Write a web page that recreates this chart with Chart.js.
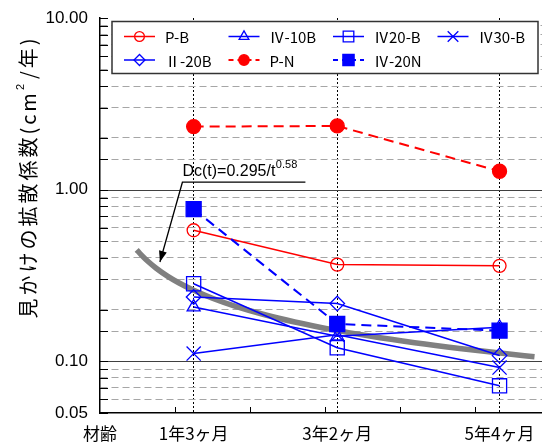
<!DOCTYPE html>
<html>
<head>
<meta charset="utf-8">
<script src="https://cdn.jsdelivr.net/npm/chart.js@4.4.1/dist/chart.umd.min.js"></script>
<style>
  html, body { margin: 0; padding: 0; background: #fff; }
  canvas { display: block; }
</style>
</head>
<body>
<canvas id="chart" width="542" height="443"></canvas>
<script>
// 材齢 (years) of each measurement and its label
var ages = [1.25, 19 / 6, 16 / 3];
var ageLabels = ['1年3ヶ月', '3年2ヶ月', '5年4ヶ月'];
var originLabel = '材齢';
var xTickYears = [1, 2, 3, 4, 5];

// 見かけの拡散係数 (cm2/年)
var seriesNames = ['P-B', 'Ⅳ-10B', 'Ⅳ20-B', 'Ⅳ30-B', 'Ⅱ-20B', 'P-N', 'Ⅳ-20N'];
var pB    = [0.58, 0.366, 0.36];
var iv10B = [0.207, 0.140, 0.158];
var iv20B = [0.283, 0.120, 0.072];
var iv30B = [0.111, 0.143, 0.092];
var ii20B = [0.237, 0.217, 0.108];
var pN    = [2.33, 2.35, 1.28];
var iv20N = [0.77, 0.165, 0.151];

// regression Dc(t) = a / t^b, sampled over the plotted range
var fitA = 0.295;
var fitB = 0.58;
var fitAges = [0.49, 0.55, 0.65, 0.75, 0.9, 1.05, 1.25, 1.5, 1.8, 2.2, 2.6, 3.1, 3.6, 4.2, 4.8, 5.4, 5.8];

var yLabelValues = [0.05, 0.1, 1, 10];
var yDecades = [0.1, 1];
var yTitle = ['見かけの拡散係数(cm', '2', '/年)'];

var RED = '#ff0000';
var BLUE = '#0000ff';
var JP = '"Noto Sans CJK JP", sans-serif';
var NUM = '"Liberation Sans", Arial, sans-serif';

function fit(t) { return fitA / Math.pow(t, fitB); }

function points(vals) {
  return ages.map(function (a, i) { return { x: a, y: vals[i] }; });
}

function series(name, vals, color, style, radius, filled, dashed) {
  return {
    label: name,
    data: points(vals),
    showLine: true,
    borderColor: color,
    borderWidth: dashed ? 2 : 1.5,
    borderDash: dashed ? [10, 6] : [],
    pointStyle: style,
    pointRadius: radius,
    pointHoverRadius: radius,
    pointBorderColor: color,
    pointBackgroundColor: filled ? color : 'rgba(0,0,0,0)',
    pointBorderWidth: 1.3,
    order: dashed ? 0 : 1
  };
}

var datasets = [
  series(seriesNames[0], pB, RED, 'circle', 6.5, false, false),
  series(seriesNames[1], iv10B, BLUE, 'triangle', 7.5, false, false),
  series(seriesNames[2], iv20B, BLUE, 'rect', 10, false, false),
  series(seriesNames[3], iv30B, BLUE, 'crossRot', 10, false, false),
  series(seriesNames[4], ii20B, BLUE, 'rectRot', 7.3, false, false),
  series(seriesNames[5], pN, RED, 'circle', 7, true, true),
  series(seriesNames[6], iv20N, BLUE, 'rect', 10.6, true, true),
  {
    label: 'fit',
    data: fitAges.map(function (t) { return { x: t, y: fit(t) }; }),
    showLine: true,
    borderColor: '#808080',
    borderWidth: 5.5,
    pointRadius: 0,
    cubicInterpolationMode: 'monotone',
    order: 2
  }
];

function px(v) { return Math.round(v) + 0.5; }

var decor = {
  id: 'decor',
  beforeDatasetsDraw: function (chart) {
    var ctx = chart.ctx, ca = chart.chartArea;
    var xs = chart.scales.x, ys = chart.scales.y;
    ctx.save();
    ctx.setLineDash([]);
    ctx.strokeStyle = '#404040';
    ctx.lineWidth = 1;
    yDecades.forEach(function (v) {
      var y = px(ys.getPixelForValue(v));
      ctx.beginPath(); ctx.moveTo(ca.left, y); ctx.lineTo(ca.right, y); ctx.stroke();
    });
    ctx.strokeStyle = '#000';
    ys.ticks.forEach(function (t) {
      var y = px(ys.getPixelForValue(t.value));
      ctx.beginPath(); ctx.moveTo(ca.left, y); ctx.lineTo(ca.left + 8, y); ctx.stroke();
    });
    xTickYears.forEach(function (v) {
      var x = px(xs.getPixelForValue(v));
      ctx.beginPath(); ctx.moveTo(x, ca.bottom); ctx.lineTo(x, ca.bottom - 6); ctx.stroke();
    });
    ctx.restore();
  },
  afterDraw: function (chart) {
    var ctx = chart.ctx, ca = chart.chartArea;
    var xs = chart.scales.x, ys = chart.scales.y;
    ctx.save();

    // equation with leader arrow onto the curve
    var ex = xs.getPixelForValue(1.1), ey = ys.getPixelForValue(1.105);
    var tx = xs.getPixelForValue(0.8), ty = ys.getPixelForValue(fit(0.8)) - 9;
    ctx.fillStyle = '#000';
    ctx.strokeStyle = '#000';
    ctx.lineWidth = 1.3;
    ctx.font = '16px ' + NUM;
    ctx.textBaseline = 'alphabetic';
    var eq = 'Dc(t)=' + fitA + '/t';
    ctx.fillText(eq, ex, ey - 6.5);
    var ew = ctx.measureText(eq).width;
    ctx.font = '11px ' + NUM;
    ctx.fillText(String(fitB), ex + ew + 0.5, ey - 14);
    ctx.beginPath();
    ctx.moveTo(ex + 123, ey); ctx.lineTo(ex, ey); ctx.lineTo(tx, ty);
    ctx.stroke();
    var ang = Math.atan2(ty - ey, tx - ex);
    ctx.beginPath();
    ctx.moveTo(tx, ty);
    ctx.lineTo(tx - 11 * Math.cos(ang) + 4 * Math.sin(ang), ty - 11 * Math.sin(ang) - 4 * Math.cos(ang));
    ctx.lineTo(tx - 11 * Math.cos(ang) - 4 * Math.sin(ang), ty - 11 * Math.sin(ang) + 4 * Math.cos(ang));
    ctx.closePath();
    ctx.fill();

    // legend box inside the plot
    var bl = ca.left + 12, bt = ca.top + 3.5, bw = 426, bh = 52;
    ctx.fillStyle = '#fff';
    ctx.fillRect(bl, bt, bw, bh);
    ctx.strokeStyle = '#333';
    ctx.lineWidth = 1.5;
    ctx.strokeRect(bl, bt, bw, bh);
    ctx.font = '15px ' + JP;
    ctx.textBaseline = 'middle';
    chart.data.datasets.forEach(function (ds, i) {
      if (i >= seriesNames.length) return;
      var row = i < 4 ? 0 : 1, col = i < 4 ? i : i - 4;
      var x0 = bl + 12 + col * 104.5, y0 = bt + 15 + row * 23.5;
      ctx.save();
      ctx.strokeStyle = ds.borderColor;
      ctx.lineWidth = ds.borderWidth;
      ctx.setLineDash(ds.borderDash.length ? [5, 4] : []);
      ctx.beginPath(); ctx.moveTo(x0, y0); ctx.lineTo(x0 + 31, y0); ctx.stroke();
      ctx.setLineDash([]);
      ctx.lineWidth = ds.pointBorderWidth;
      ctx.fillStyle = ds.pointBackgroundColor;
      Chart.helpers.drawPoint(ctx, {
        pointStyle: ds.pointStyle, radius: ds.pointRadius * 0.75,
        borderWidth: ds.pointBorderWidth, rotation: 0
      }, x0 + 15.5, y0);
      ctx.restore();
      ctx.fillStyle = '#000';
      ctx.fillText(ds.label, x0 + 41, y0 + 1);
    });

    // rotated value-axis title with superscript
    ctx.translate(28, 177);
    ctx.rotate(-Math.PI / 2);
    ctx.fillStyle = '#000';
    ctx.textBaseline = 'middle';
    ctx.letterSpacing = '3px';
    ctx.font = '20px ' + JP;
    var w1 = ctx.measureText(yTitle[0]).width, w3 = ctx.measureText(yTitle[2]).width;
    ctx.font = '11px ' + NUM;
    var w2 = ctx.measureText(yTitle[1]).width + 2;
    var x = -(w1 + w2 + w3) / 2;
    ctx.font = '20px ' + JP;
    ctx.fillText(yTitle[0], x, 0);
    ctx.font = '11px ' + NUM;
    ctx.fillText(yTitle[1], x + w1, -7);
    ctx.font = '20px ' + JP;
    ctx.fillText(yTitle[2], x + w1 + w2, 0);
    ctx.restore();
  }
};

new Chart(document.getElementById('chart'), {
  type: 'scatter',
  data: { datasets: datasets },
  options: {
    responsive: false,
    animation: false,
    events: [],
    layout: { autoPadding: false, padding: { top: 18, right: 0, bottom: 0, left: 0 } },
    plugins: { legend: { display: false }, tooltip: { enabled: false } },
    scales: {
      x: {
        type: 'linear',
        min: 0,
        max: 5.9,
        afterBuildTicks: function (scale) {
          scale.ticks = [0].concat(ages).map(function (v) { return { value: v }; });
        },
        afterFit: function (scale) {
          scale.height = 30;
          scale.paddingLeft = 0;
          scale.paddingRight = 0;
        },
        ticks: {
          autoSkip: false,
          maxRotation: 0,
          padding: 10,
          color: '#000',
          font: { family: JP, size: 17 },
          callback: function (v, i) { return i === 0 ? originLabel : ageLabels[i - 1]; }
        },
        grid: {
          drawTicks: false,
          lineWidth: 1,
          color: function (c) { return c.index === 0 ? 'rgba(0,0,0,0)' : '#000'; }
        },
        border: { display: true, color: '#000', width: 1.5, dash: [2, 2] }
      },
      y: {
        type: 'logarithmic',
        min: 0.05,
        max: 10,
        afterFit: function (scale) {
          scale.width = 100;
          scale.paddingTop = 0;
          scale.paddingBottom = 0;
        },
        ticks: {
          autoSkip: false,
          padding: 12,
          color: '#000',
          font: { family: NUM, size: 17 },
          callback: function (v) {
            for (var i = 0; i < yLabelValues.length; i++) {
              if (Math.abs(Math.log10(v) - Math.log10(yLabelValues[i])) < 1e-6) return v.toFixed(2);
            }
            return '';
          }
        },
        grid: {
          drawTicks: false,
          lineWidth: 1,
          color: function (c) {
            var v = c.tick ? c.tick.value : 0;
            var e = Math.log10(v);
            return (Math.abs(e - Math.round(e)) < 1e-6 || v <= 0.05 + 1e-9) ? 'rgba(0,0,0,0)' : '#a6a6a6';
          }
        },
        border: { display: true, color: '#000', width: 1.5, dash: [7, 4] }
      }
    }
  },
  plugins: [decor]
});
</script>
</body>
</html>
